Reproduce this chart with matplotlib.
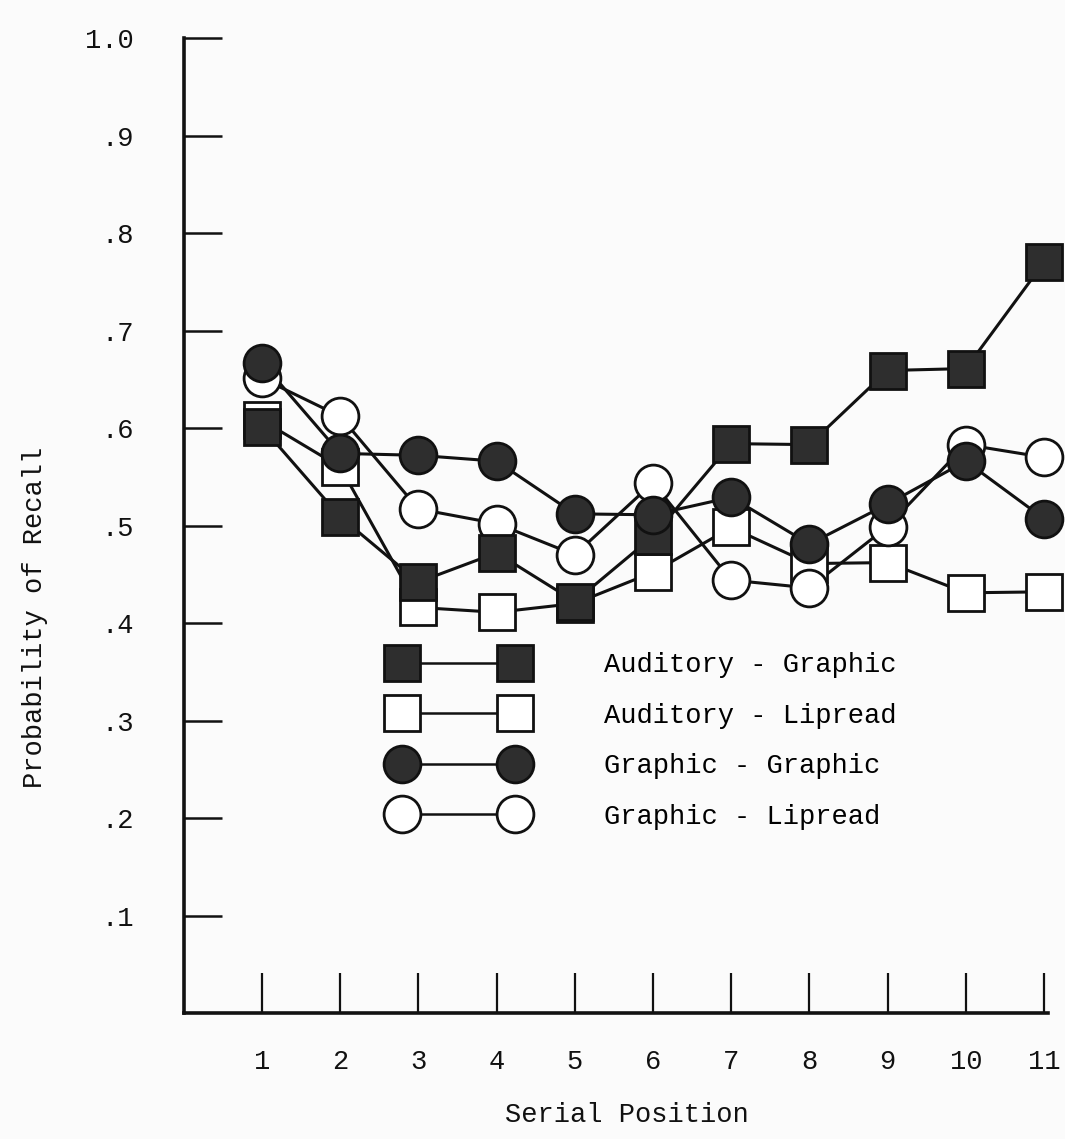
import matplotlib
matplotlib.use('Agg')
import matplotlib.pyplot as plt
from matplotlib.lines import Line2D
from matplotlib.ticker import FixedLocator

# recall probability by serial position, one list per presentation condition
serial_position = [1, 2, 3, 4, 5, 6, 7, 8, 9, 10, 11]
auditory_graphic = [0.601, 0.509, 0.442, 0.472, 0.422, 0.489, 0.584, 0.583, 0.659, 0.661, 0.770]
auditory_lipread = [0.608, 0.560, 0.416, 0.411, 0.420, 0.452, 0.498, 0.461, 0.462, 0.431, 0.432]
graphic_graphic = [0.667, 0.574, 0.572, 0.566, 0.512, 0.511, 0.529, 0.481, 0.522, 0.566, 0.507]
graphic_lipread = [0.651, 0.612, 0.517, 0.502, 0.470, 0.544, 0.444, 0.436, 0.499, 0.583, 0.570]

y_ticks = [0.1, 0.2, 0.3, 0.4, 0.5, 0.6, 0.7, 0.8, 0.9, 1.0]
y_tick_labels = ['.1', '.2', '.3', '.4', '.5', '.6', '.7', '.8', '.9', '1.0']
x_tick_labels = ['1', '2', '3', '4', '5', '6', '7', '8', '9', '10', '11']

FONT = 'Liberation Mono'
FS = 19.5
INK = '#111111'
FILL = '#2e2e2e'
MS = 26.5


def plot_recall():
    plt.rcParams['font.family'] = FONT
    fig = plt.figure(figsize=(10.65, 11.39), dpi=100, facecolor='#fbfbfb')
    ax = fig.add_axes([0.1726, 0.1106, 0.8114, 0.856])
    ax.set_facecolor('none')

    # condition: (label, values, marker, face colour, zorder)
    series = [
        ('Auditory - Graphic', auditory_graphic, 's', FILL, 5),
        ('Auditory - Lipread', auditory_lipread, 's', 'white', 3),
        ('Graphic - Graphic', graphic_graphic, 'o', FILL, 6),
        ('Graphic - Lipread', graphic_lipread, 'o', 'white', 4),
    ]

    for label, values, marker, face, z in series:
        # connecting lines sit below every marker
        ax.plot(serial_position, values, color=INK, lw=2.2, zorder=2,
                solid_capstyle='butt')
        ax.plot(serial_position, values, linestyle='None',
                marker=marker, markersize=MS,
                markerfacecolor=face, markeredgecolor=INK,
                markeredgewidth=2.0, zorder=z, clip_on=False)

    ax.set_xlim(0, 11.05)
    ax.set_ylim(0, 1.0)

    for side in ['top', 'right']:
        ax.spines[side].set_visible(False)
    for side in ['left', 'bottom']:
        ax.spines[side].set_linewidth(2.6)
        ax.spines[side].set_color(INK)

    ax.xaxis.set_major_locator(FixedLocator(serial_position))
    ax.set_xticklabels(x_tick_labels)
    ax.yaxis.set_major_locator(FixedLocator(y_ticks))
    ax.set_yticklabels(y_tick_labels)

    ax.tick_params(axis='x', direction='in', length=29, width=1.6,
                   pad=26, labelsize=FS, colors=INK)
    ax.tick_params(axis='y', direction='in', length=27, width=1.8,
                   pad=36, labelsize=FS, colors=INK)

    # legend: two markers joined by a line for every condition
    legend_handles = []
    for label, values, marker, face, z in series:
        legend_handles.append(Line2D([], [], color=INK, lw=1.8, marker=marker,
                                     markersize=MS, markerfacecolor=face,
                                     markeredgecolor=INK, markeredgewidth=2.0))
    ax.legend(legend_handles, [s[0] for s in series], numpoints=2,
              frameon=False, fontsize=FS, handlelength=4.75,
              handletextpad=3.0, labelspacing=0.9, borderpad=0,
              borderaxespad=0, loc='center left',
              bbox_to_anchor=(394 / 1065, 1 - 741 / 1139),
              bbox_transform=fig.transFigure)

    fig.text(35 / 1065, 1 - 617 / 1139, 'Probability of Recall',
             rotation=90, ha='center', va='center', fontsize=FS, color=INK)
    fig.text(627 / 1065, 1 - 1115 / 1139, 'Serial Position',
             ha='center', va='center', fontsize=FS, color=INK)

    fig.savefig('out.png', dpi=100, facecolor=fig.get_facecolor())


def main():
    plot_recall()


if __name__ == "__main__":
    main()
